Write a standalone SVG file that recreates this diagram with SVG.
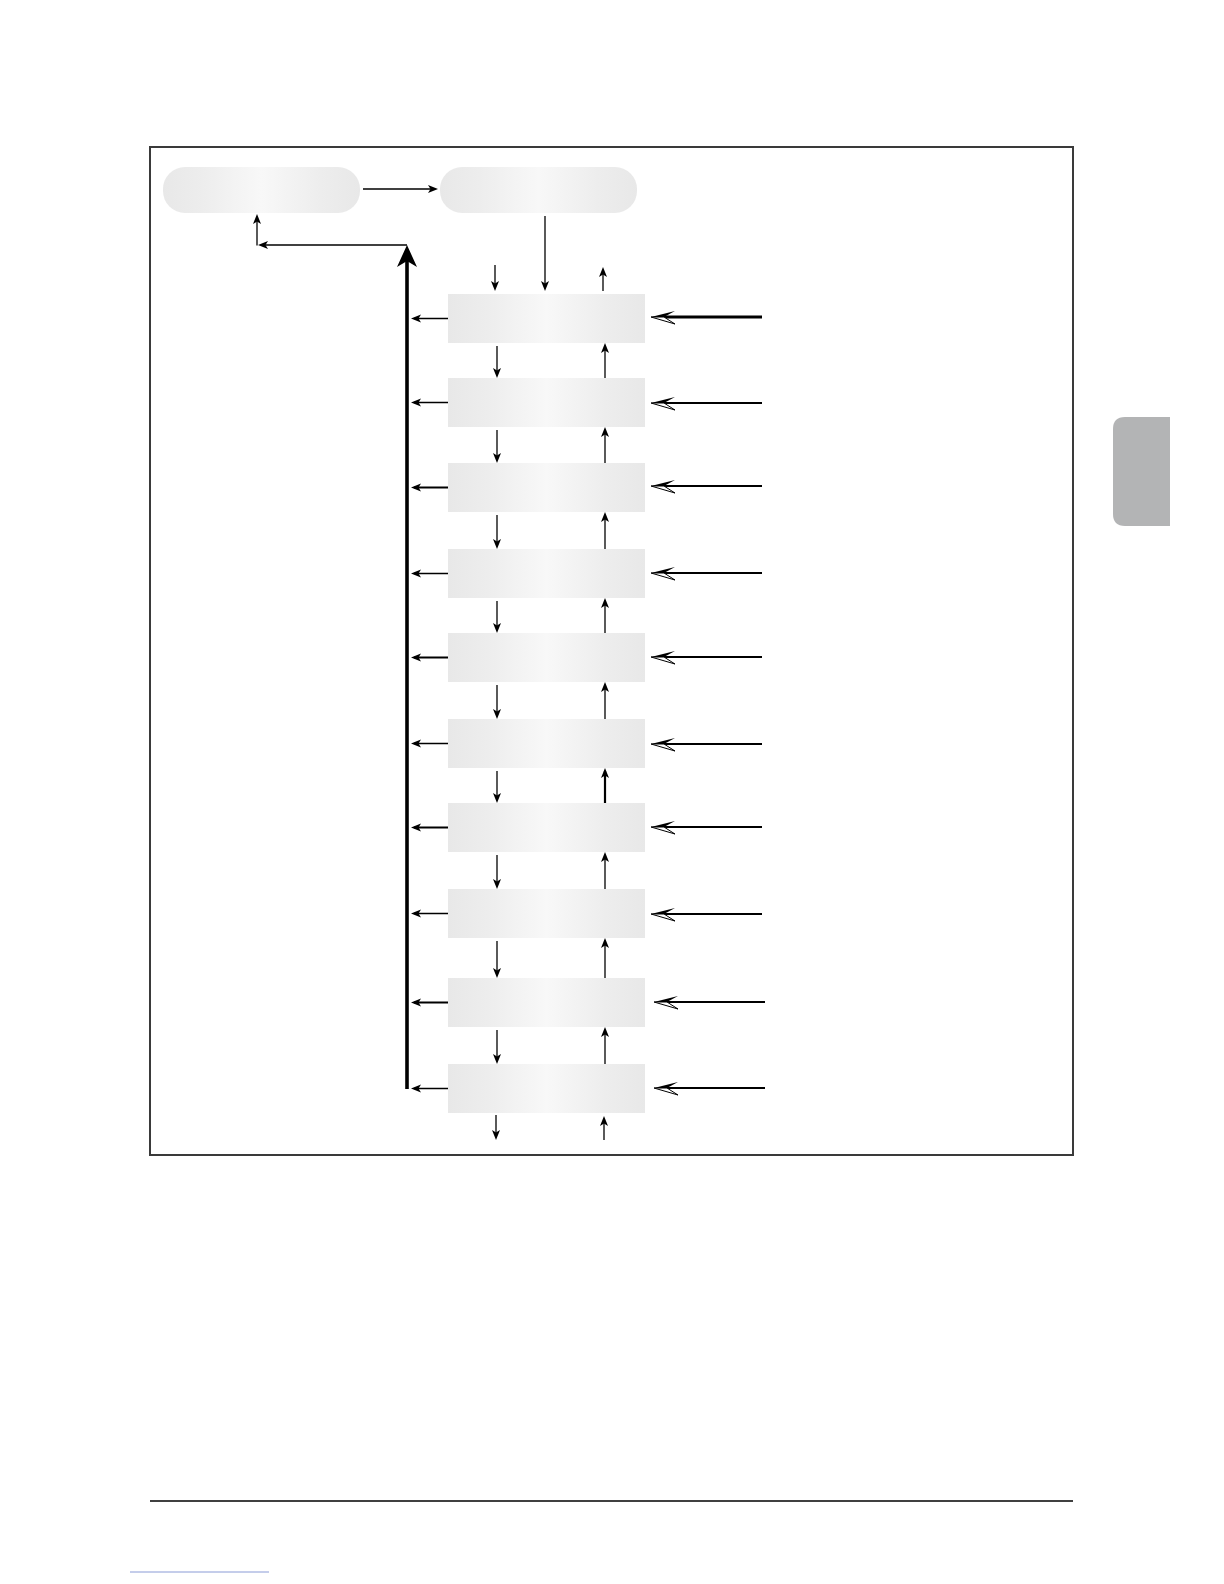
<svg xmlns="http://www.w3.org/2000/svg" width="1224" height="1584" viewBox="0 0 1224 1584">
  <style>
    .node { fill: url(#g); }
    .thin { stroke: #000; stroke-width: 1.3; fill: none; }
    .mid { stroke: #000; stroke-width: 2.2; fill: none; }
    .bold { stroke: #000; stroke-width: 2.8; fill: none; }
    .spine { stroke: #000; stroke-width: 3.6; fill: none; }
  </style>
  <defs>
    <linearGradient id="g" x1="0" y1="0" x2="1" y2="0">
      <stop offset="0" stop-color="#e8e8e8"/>
      <stop offset="0.2" stop-color="#ededed"/>
      <stop offset="0.5" stop-color="#f8f8f8"/>
      <stop offset="0.8" stop-color="#ededed"/>
      <stop offset="1" stop-color="#e8e8e8"/>
    </linearGradient>
    <marker id="arr" markerUnits="userSpaceOnUse" markerWidth="10" markerHeight="10" viewBox="0 0 10 10" refX="7" refY="5" orient="auto">
      <path d="M0,1 L10,5 L0,9 L2.5,5 Z" fill="#000"/>
    </marker>
    <g id="open">
      <path d="M0,0 L24,-6 L13,0 Z" fill="#000"/>
      <path d="M0,0 L13,0 L24,7 Z" fill="#fff" stroke="#000" stroke-width="1"/>
    </g>
  </defs>
  <rect width="1224" height="1584" fill="#fff"/>

  <!-- frame -->
  <rect x="150" y="147" width="923" height="1008" fill="none" stroke="#3a3a3a" stroke-width="2"/>

  <!-- side tab -->
  <path d="M1170,417 L1125,417 Q1113,417 1113,429 L1113,514 Q1113,526 1125,526 L1170,526 Z" fill="#b3b4b5"/>

  <!-- bottom rule -->
  <line x1="150" y1="1501" x2="1073" y2="1501" stroke="#000" stroke-width="1.5"/>
  <line x1="130" y1="1572" x2="269" y2="1572" stroke="#8a9bd6" stroke-width="1"/>

  <g id="node-top1"><rect class="node" x="163" y="167" width="197" height="46" rx="22"/></g>
  <g id="node-top2"><rect class="node" x="440" y="167" width="197" height="46" rx="22"/></g>
  <g id="node-1"><rect class="node" x="448" y="294" width="197" height="49"/></g>
  <g id="node-2"><rect class="node" x="448" y="378" width="197" height="49"/></g>
  <g id="node-3"><rect class="node" x="448" y="463" width="197" height="49"/></g>
  <g id="node-4"><rect class="node" x="448" y="549" width="197" height="49"/></g>
  <g id="node-5"><rect class="node" x="448" y="633" width="197" height="49"/></g>
  <g id="node-6"><rect class="node" x="448" y="719" width="197" height="49"/></g>
  <g id="node-7"><rect class="node" x="448" y="803" width="197" height="49"/></g>
  <g id="node-8"><rect class="node" x="448" y="889" width="197" height="49"/></g>
  <g id="node-9"><rect class="node" x="448" y="978" width="197" height="49"/></g>
  <g id="node-10"><rect class="node" x="448" y="1064" width="197" height="49"/></g>

  <g id="connectors">
    <!-- top row -->
    <line class="thin" x1="363" y1="189" x2="435" y2="189" marker-end="url(#arr)"/>
    <line class="thin" x1="545" y1="216" x2="545" y2="288" marker-end="url(#arr)"/>
    <line class="thin" x1="495" y1="265" x2="495" y2="288" marker-end="url(#arr)"/>
    <line class="thin" x1="603" y1="291" x2="603" y2="270" marker-end="url(#arr)"/>

    <!-- return path -->
    <line class="spine" x1="407" y1="1089" x2="407" y2="258"/>
    <path d="M407,245 L397,267 L407,261 L417,267 Z" fill="#000"/>
    <line class="thin" x1="407" y1="245" x2="261" y2="245" marker-end="url(#arr)"/>
    <line class="thin" x1="257" y1="245.5" x2="257" y2="217" marker-end="url(#arr)"/>

    <!-- left arrows -->
    <line class="thin" x1="448" y1="318.5" x2="414" y2="318.5" marker-end="url(#arr)"/>
    <line class="thin" x1="448" y1="402.5" x2="414" y2="402.5" marker-end="url(#arr)"/>
    <line class="mid" x1="448" y1="487.5" x2="414" y2="487.5" marker-end="url(#arr)"/>
    <line class="thin" x1="448" y1="573.5" x2="414" y2="573.5" marker-end="url(#arr)"/>
    <line class="mid" x1="448" y1="657.5" x2="414" y2="657.5" marker-end="url(#arr)"/>
    <line class="thin" x1="448" y1="743.5" x2="414" y2="743.5" marker-end="url(#arr)"/>
    <line class="mid" x1="448" y1="827.5" x2="414" y2="827.5" marker-end="url(#arr)"/>
    <line class="thin" x1="448" y1="913.5" x2="414" y2="913.5" marker-end="url(#arr)"/>
    <line class="mid" x1="448" y1="1002.5" x2="414" y2="1002.5" marker-end="url(#arr)"/>
    <line class="thin" x1="448" y1="1088.5" x2="414" y2="1088.5" marker-end="url(#arr)"/>

    <!-- down arrows -->
    <line class="thin" x1="497" y1="346" x2="497" y2="375" marker-end="url(#arr)"/>
    <line class="thin" x1="497" y1="430" x2="497" y2="460" marker-end="url(#arr)"/>
    <line class="thin" x1="497" y1="515" x2="497" y2="546" marker-end="url(#arr)"/>
    <line class="thin" x1="497" y1="601" x2="497" y2="630" marker-end="url(#arr)"/>
    <line class="thin" x1="497" y1="685" x2="497" y2="716" marker-end="url(#arr)"/>
    <line class="thin" x1="497" y1="771" x2="497" y2="800" marker-end="url(#arr)"/>
    <line class="thin" x1="497" y1="855" x2="497" y2="886" marker-end="url(#arr)"/>
    <line class="thin" x1="497" y1="941" x2="497" y2="975" marker-end="url(#arr)"/>
    <line class="thin" x1="497" y1="1030" x2="497" y2="1061" marker-end="url(#arr)"/>
    <line class="thin" x1="496" y1="1115" x2="496" y2="1137" marker-end="url(#arr)"/>

    <!-- up arrows -->
    <line class="thin" x1="605" y1="378" x2="605" y2="346" marker-end="url(#arr)"/>
    <line class="thin" x1="605" y1="463" x2="605" y2="430" marker-end="url(#arr)"/>
    <line class="thin" x1="605" y1="549" x2="605" y2="515" marker-end="url(#arr)"/>
    <line class="thin" x1="605" y1="633" x2="605" y2="601" marker-end="url(#arr)"/>
    <line class="thin" x1="605" y1="719" x2="605" y2="685" marker-end="url(#arr)"/>
    <line class="mid" x1="605" y1="803" x2="605" y2="771" marker-end="url(#arr)"/>
    <line class="thin" x1="605" y1="889" x2="605" y2="855" marker-end="url(#arr)"/>
    <line class="thin" x1="605" y1="978" x2="605" y2="941" marker-end="url(#arr)"/>
    <line class="thin" x1="605" y1="1064" x2="605" y2="1030" marker-end="url(#arr)"/>
    <line class="thin" x1="604" y1="1140" x2="604" y2="1119" marker-end="url(#arr)"/>

    <!-- right input arrows -->
    <line class="bold" x1="762" y1="317" x2="664" y2="317"/>
    <use href="#open" x="651" y="317"/>
    <line class="mid" x1="762" y1="403" x2="664" y2="403"/>
    <use href="#open" x="651" y="403"/>
    <line class="mid" x1="762" y1="486" x2="664" y2="486"/>
    <use href="#open" x="651" y="486"/>
    <line class="mid" x1="762" y1="573" x2="664" y2="573"/>
    <use href="#open" x="651" y="573"/>
    <line class="mid" x1="762" y1="657" x2="664" y2="657"/>
    <use href="#open" x="651" y="657"/>
    <line class="mid" x1="762" y1="744" x2="664" y2="744"/>
    <use href="#open" x="651" y="744"/>
    <line class="mid" x1="762" y1="827" x2="664" y2="827"/>
    <use href="#open" x="651" y="827"/>
    <line class="mid" x1="762" y1="914" x2="664" y2="914"/>
    <use href="#open" x="651" y="914"/>
    <line class="mid" x1="765" y1="1002" x2="667" y2="1002"/>
    <use href="#open" x="654" y="1002"/>
    <line class="mid" x1="765" y1="1088" x2="667" y2="1088"/>
    <use href="#open" x="654" y="1088"/>
  </g>
</svg>
